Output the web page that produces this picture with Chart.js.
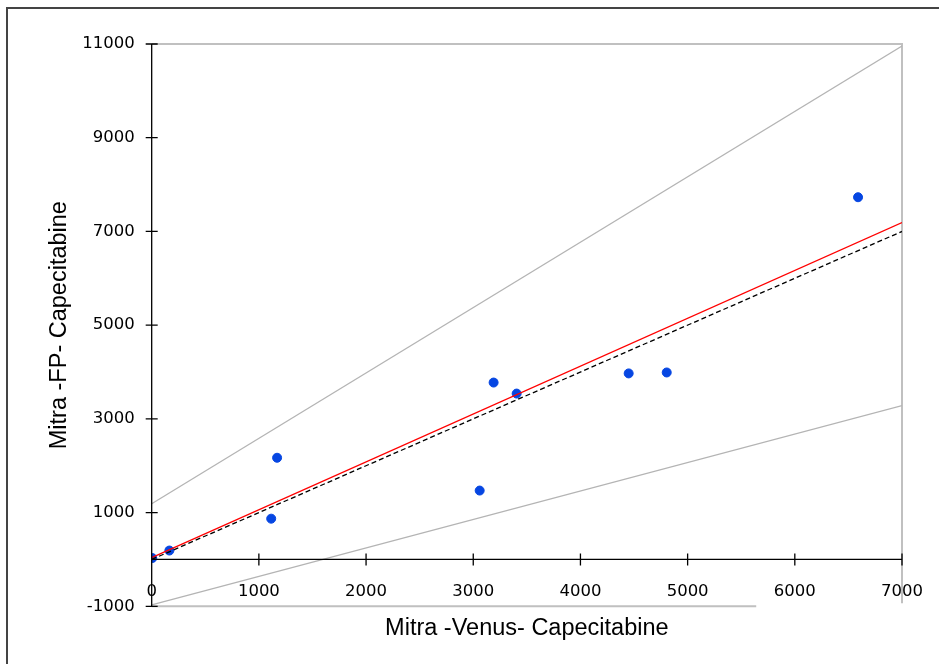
<!DOCTYPE html>
<html>
<head>
<meta charset="utf-8">
<script src="https://cdn.jsdelivr.net/npm/chart.js@4"></script>
<style>
  html, body { margin: 0; padding: 0; background: #fff; }
  #wrap { position: relative; width: 939px; height: 664px; overflow: hidden; }
  #frame { position: absolute; left: 6px; top: 7px; width: 1000px; height: 1000px;
           border-left: 2px solid #444; border-top: 2px solid #444; }
  canvas { position: absolute; left: 0; top: 0; }
</style>
</head>
<body>
<div id="wrap">
  <div id="frame"></div>
  <canvas id="chart" width="939" height="664"></canvas>
</div>
<script>
// measured values (Venus vs FP, capecitabine)
const venusX = [5, 165, 1115, 1170, 3060, 3190, 3405, 4450, 4805, 6590];
const fpY    = [30, 190, 870, 2170, 1470, 3775, 3540, 3970, 3990, 7730];

// fitted / reference lines, endpoints at x = 0 and x = 7000
const lineX      = [0, 7000];
const regY       = [40, 7190];    // regression (red)
const identityY  = [0, 7000];     // y = x (dashed)
const upperY     = [1190, 10955]; // upper limit (grey)
const lowerY     = [-970, 3285];  // lower limit (grey)

const xTicks = [0, 1000, 2000, 3000, 4000, 5000, 6000, 7000];
const yTicks = [-1000, 1000, 3000, 5000, 7000, 9000, 11000];
const frameBottomEnd = 5640; // bottom frame line stops here

const toPts = (xs, ys) => xs.map((x, i) => ({ x: x, y: ys[i] }));

function lineSet(label, ys, color, width, dash) {
    return {
        type: 'line',
        label: label,
        data: toPts(lineX, ys),
        borderColor: color,
        borderWidth: width,
        borderDash: dash || [],
        pointRadius: 0,
        fill: false,
        xAxisID: 'x'
    };
}

// grey frame, crossing ticks
const framePlugin = {
    id: 'frame',
    beforeDatasetsDraw(chart) {
        const ctx = chart.ctx, a = chart.chartArea;
        const xs = chart.scales.x;
        ctx.save();
        ctx.strokeStyle = '#c0c0c0';
        ctx.lineWidth = 2;
        ctx.beginPath();
        ctx.moveTo(a.left, a.top);
        ctx.lineTo(a.right, a.top);
        ctx.lineTo(a.right, a.bottom - 3);
        ctx.moveTo(a.left, a.bottom);
        ctx.lineTo(xs.getPixelForValue(frameBottomEnd), a.bottom);
        ctx.stroke();
        ctx.restore();
    },
    afterDraw(chart) {
        const ctx = chart.ctx;
        const xs = chart.scales.x, ys = chart.scales.y;
        const y0 = ys.getPixelForValue(0);
        const x0 = xs.getPixelForValue(0);
        ctx.save();
        ctx.strokeStyle = '#000';
        ctx.lineWidth = 1.3;
        ctx.beginPath();
        // y axis line and ticks
        ctx.moveTo(x0, ys.getPixelForValue(yTicks[yTicks.length - 1]));
        ctx.lineTo(x0, ys.getPixelForValue(yTicks[0]));
        yTicks.forEach(v => {
            const p = ys.getPixelForValue(v);
            ctx.moveTo(x0 - 6, p);
            ctx.lineTo(x0 + 6, p);
        });
        // x axis line and ticks
        ctx.moveTo(x0, y0);
        ctx.lineTo(xs.getPixelForValue(xTicks[xTicks.length - 1]), y0);
        xTicks.forEach(v => {
            if (v === 0) return;
            const p = xs.getPixelForValue(v);
            ctx.moveTo(p, y0 - 6);
            ctx.lineTo(p, y0 + 6);
        });
        ctx.stroke();
        ctx.restore();
    }
};

const tickFont = { family: 'DejaVu Sans', size: 16.5 };
const titleFont = { family: 'Liberation Sans', size: 23.5 };
const plain = v => String(v);

new Chart(document.getElementById('chart').getContext('2d'), {
    type: 'scatter',
    data: {
        datasets: [
            lineSet('Upper', upperY, '#b4b4b4', 1.3),
            lineSet('Lower', lowerY, '#b4b4b4', 1.3),
            lineSet('y = x', identityY, '#000000', 1.3, [5, 3]),
            lineSet('Regression', regY, '#ff0000', 1.3),
            {
                label: 'Capecitabine',
                data: toPts(venusX, fpY),
                backgroundColor: '#0646e2',
                borderColor: '#0646e2',
                pointRadius: 4.5,
                xAxisID: 'x'
            }
        ]
    },
    options: {
        responsive: false,
        animation: false,
        layout: { padding: { top: 44, right: 37, left: 45, bottom: 21.5 } },
        plugins: { legend: { display: false }, tooltip: { enabled: false } },
        scales: {
            x: {
                type: 'linear',
                position: { y: 0 },
                min: 0, max: 7000,
                afterBuildTicks: s => { s.ticks = xTicks.map(v => ({ value: v })); },
                grid: { display: false },
                border: { display: false },
                ticks: { color: '#000', font: tickFont, padding: 14, maxRotation: 0, callback: plain }
            },
            x2: {
                type: 'linear',
                position: 'bottom',
                min: 0, max: 7000,
                grid: { display: false },
                border: { display: false },
                ticks: { display: false },
                title: { display: true, text: 'Mitra -Venus- Capecitabine', color: '#000', font: titleFont, padding: { top: 0, bottom: 0 } }
            },
            y: {
                type: 'linear',
                min: -1000, max: 11000,
                afterBuildTicks: s => { s.ticks = yTicks.map(v => ({ value: v })); },
                grid: { display: false },
                border: { display: false },
                ticks: { color: '#000', font: tickFont, padding: 9, callback: plain },
                title: { display: true, text: 'Mitra -FP- Capecitabine', color: '#000', font: titleFont, padding: { top: 0, bottom: 0 } }
            }
        }
    },
    plugins: [framePlugin]
});
</script>
</body>
</html>
